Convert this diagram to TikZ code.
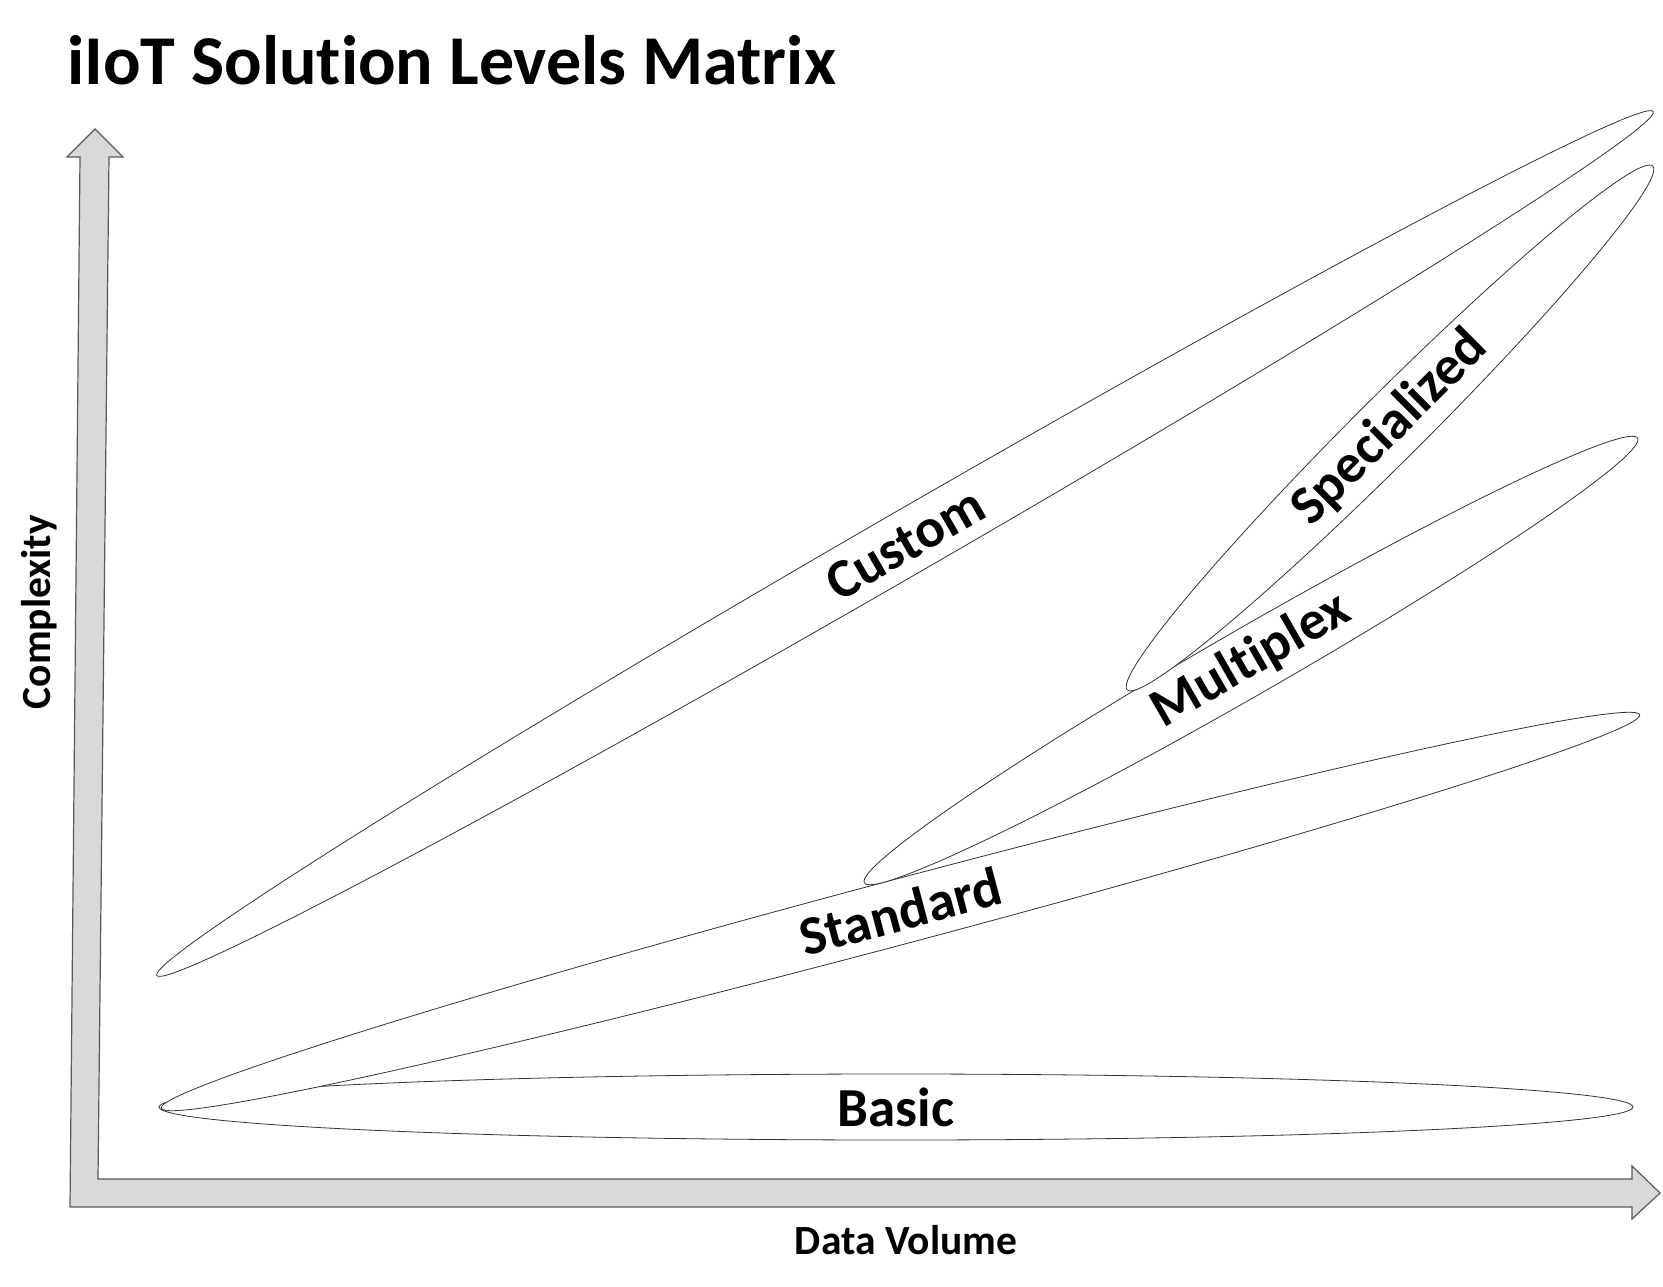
\documentclass[tikz,border=0pt]{standalone}
\usepackage{fontspec}
\setmainfont[Ligatures={NoCommon}]{Carlito}
\usetikzlibrary{shapes.geometric}
\tikzset{>=latex}
\tikzset{
  level/.style={ellipse,draw=black!80,fill=white,line width=0.8pt,inner sep=0pt,
    font=\bfseries\fontsize{55}{60}\selectfont},
  axislabel/.style={font=\bfseries\fontsize{41.5}{44}\selectfont},
  axisarrow/.style={fill=black!15,draw=black!65,line width=1.2pt,line join=miter}
}

\begin{document}
\begin{tikzpicture}[x=1pt,y=-1pt]
\useasboundingbox (0,0) rectangle (1663,1287);

%%% Title
\node[anchor=base west,inner sep=0pt,font=\bfseries\fontsize{70}{74}\selectfont] (title) at (67,85) {iIoT Solution Levels Matrix};

%%% Axes
\draw[axisarrow] (70,1207) -- (1632,1207) -- (1632,1219) -- (1660,1193) -- (1632,1166) -- (1632,1179)
  -- (98,1179) -- (109,157) -- (123,157) -- (95,129) -- (67,157) -- (80,157) -- cycle;

\node[axislabel,rotate=90] (ylabel) at (39,612) {Complexity};
\node[axislabel] (xlabel) at (906,1240) {Data Volume};

%%% Solution levels
\node[level,minimum width=1474pt,minimum height=66pt] (basic) at (896,1107) {Basic};
\node[level,minimum width=1530pt,minimum height=65pt,rotate=14.9] (standard) at (900.5,911.5) {Standard};
\node[level,minimum width=892pt,minimum height=66pt,rotate=29.9] (multiplex) at (1251,660.5) {Multiplex};
\node[level,minimum width=742pt,minimum height=64pt,rotate=44.9] (specialized) at (1390,428) {Specialized};
\node[level,minimum width=1728pt,minimum height=64pt,rotate=30] (custom) at (905,543.5) {Custom};

\end{tikzpicture}
\end{document}
